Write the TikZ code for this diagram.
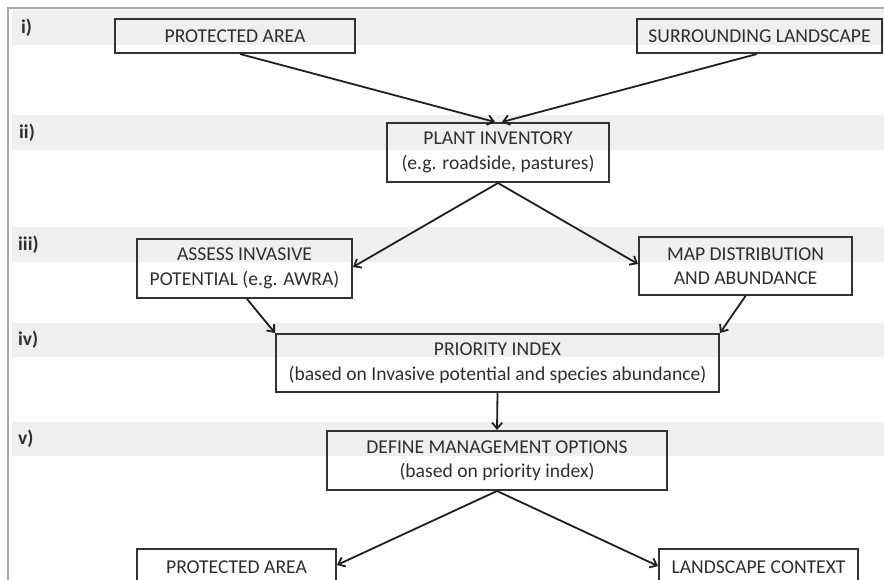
\documentclass[tikz,border=0pt]{standalone}
\usepackage{fontspec}
\setmainfont{Carlito}
\usetikzlibrary{arrows.meta}
\definecolor{bandgray}{HTML}{EFEFEF}
\definecolor{boxgray}{HTML}{333333}
\definecolor{textgray}{HTML}{2E2E2E}
\definecolor{bordergray}{HTML}{A6A6A6}
\begin{document}
\begin{tikzpicture}[x=1pt,y=-1pt,
  box/.style={draw=boxgray,line width=2pt,inner sep=0pt,align=center,
    font=\fontsize{19.6}{24.5}\selectfont,text=textgray},
  band/.style={fill=bandgray,draw=none},
  lbl/.style={anchor=west,inner sep=0pt,font=\fontsize{19.5}{22}\selectfont\bfseries,text=textgray},
  arr/.style={-{Straight Barb[length=6pt,width=10pt]},line width=1.8pt,draw=black!88}]
\useasboundingbox (0,0) rectangle (884,580);
\clip (0,0) rectangle (884,580);
% bands
\fill[band] (12,10) rectangle (884,45);
\fill[band] (12,115) rectangle (884,150);
\fill[band] (12,227) rectangle (884,262);
\fill[band] (12,323) rectangle (884,357);
\fill[band] (12,422) rectangle (884,456);
% outer border
\draw[bordergray,line width=1.8pt] (8,580) -- (8,8) -- (884,8);
% row labels
\node[lbl] (li) at (21,28) {i)};
\node[lbl] (lii) at (19,133) {ii)};
\node[lbl] (liii) at (18,245) {iii)};
\node[lbl] (liv) at (18,340) {iv)};
\node[lbl] (lv) at (18,439) {v)};
% boxes
\node[box,minimum width=240pt,minimum height=34pt] (pa) at (235,36) {PROTECTED AREA};
\node[box,minimum width=245pt,minimum height=34pt] (sl) at (759.5,36) {SURROUNDING LANDSCAPE};
\node[box,minimum width=222pt,minimum height=59pt] (pi) at (498,152.5) {PLANT INVENTORY\\(e.g. roadside, pastures)};
\node[box,minimum width=215pt,minimum height=59pt] (assess) at (244.5,268.5) {ASSESS INVASIVE\\POTENTIAL (e.g. AWRA)};
\node[box,minimum width=213pt,minimum height=58pt] (map) at (745.5,266) {MAP DISTRIBUTION\\AND ABUNDANCE};
\node[box,minimum width=443pt,minimum height=58pt] (prio) at (497.5,363) {PRIORITY INDEX\\(based on Invasive potential and species abundance)};
\node[box,minimum width=340pt,minimum height=59pt] (define) at (497,460.5) {DEFINE MANAGEMENT OPTIONS\\(based on priority index)};
\node[box,minimum width=199pt,minimum height=36pt] (pa2) at (236.5,567) {PROTECTED AREA};
\node[box,minimum width=199pt,minimum height=36pt] (lc) at (758.5,567) {LANDSCAPE CONTEXT};
% connectors
\draw[arr] ([xshift=5pt]pa.south) -- ([xshift=-3pt]pi.north);
\draw[arr] ([xshift=-2.5pt]sl.south) -- ([xshift=4pt]pi.north);
\draw[arr] (pi.south) -- ([yshift=1.5pt]assess.east);
\draw[arr] (pi.south) -- ([yshift=2pt]map.west);
\draw[arr] ([xshift=2.5pt]assess.south) -- (prio.north west);
\draw[arr] (map.south) -- (prio.north east);
\draw[arr] (prio.south) -- (define.north);
\draw[arr] (define.south) -- ([yshift=2pt]pa2.east);
\draw[arr] (define.south) -- ([yshift=1pt]lc.west);
\end{tikzpicture}
\end{document}
